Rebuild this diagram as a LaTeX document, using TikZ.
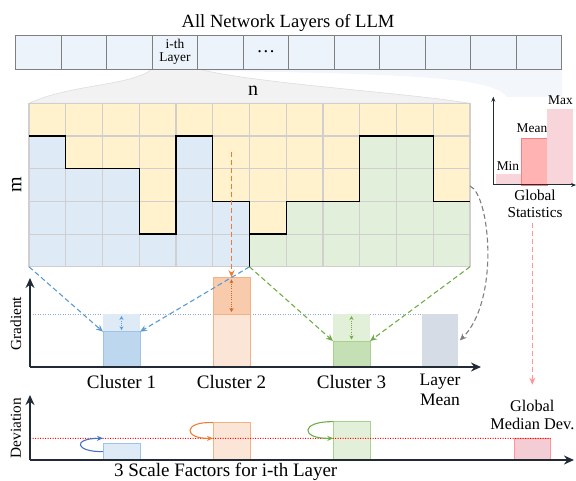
\documentclass[tikz,border=0pt]{standalone}
\usepackage{fontspec}
\setmainfont{Liberation Serif}
\usetikzlibrary{arrows.meta,calc}
\definecolor{cellblue}{RGB}{237,243,250}
\definecolor{cellline}{RGB}{127,127,127}
\definecolor{funnel}{RGB}{242,242,242}
\definecolor{funnelline}{RGB}{222,222,222}
\definecolor{funnelb}{RGB}{243,246,250}
\definecolor{gy}{RGB}{255,242,204}
\definecolor{gb}{RGB}{222,235,247}
\definecolor{gg}{RGB}{226,239,218}
\definecolor{gridline}{RGB}{208,206,206}
\definecolor{axiscol}{RGB}{34,42,53}
\definecolor{bluedark}{RGB}{189,215,238}
\definecolor{blueline}{RGB}{157,195,230}
\definecolor{bluearrow}{RGB}{91,155,213}
\definecolor{orangedark}{RGB}{248,203,173}
\definecolor{orangelight}{RGB}{251,229,214}
\definecolor{orangeline}{RGB}{244,177,131}
\definecolor{orangearrow}{RGB}{237,125,49}
\definecolor{greendark}{RGB}{197,224,180}
\definecolor{greenlight}{RGB}{226,240,217}
\definecolor{greenline}{RGB}{169,209,142}
\definecolor{greenarrow}{RGB}{112,173,71}
\definecolor{meanbar}{RGB}{214,220,229}
\definecolor{meanline}{RGB}{143,170,220}
\definecolor{pinklight}{RGB}{247,213,218}
\definecolor{pinkmean}{RGB}{255,179,179}
\definecolor{pinkline}{RGB}{245,128,128}
\definecolor{pinkarrow}{RGB}{255,150,150}
\definecolor{gmdfill}{RGB}{244,204,212}
\definecolor{devblue}{RGB}{68,114,196}
\definecolor{grayarrow}{RGB}{127,127,127}
\begin{document}
\begin{tikzpicture}[x=1pt,y=-1pt,
  lbl/.style={inner sep=0pt, outer sep=0pt},
  ftitle/.style={font=\fontsize{18.6}{20}\selectfont},
  fclus/.style={font=\fontsize{19}{21}\selectfont},
  fsmall/.style={font=\fontsize{13.4}{13.5}\selectfont},
  faxis/.style={font=\fontsize{15.3}{17}\selectfont},
  fmn/.style={font=\fontsize{20}{20}\selectfont},
  layercell/.style={draw=cellline, fill=cellblue, line width=0.9pt, minimum width=45.5pt, minimum height=34pt, inner sep=0pt, outer sep=0pt, anchor=north west},
  barnode/.style={inner sep=0pt, outer sep=0pt, anchor=south west, minimum width=37pt, line width=0.9pt},
  axisline/.style={draw=axiscol, line width=1.6pt, -{Stealth[length=10pt,width=9pt]}},
  thinaxis/.style={draw=axiscol, line width=1pt, -{Stealth[length=5pt,width=4pt]}},
  dasharrow/.style={dash pattern=on 5pt off 3pt, line width=1.1pt, -{Stealth[length=7pt,width=6pt]}},
  darr/.style={dash pattern=on 1pt off 1.2pt, line width=0.9pt, {Stealth[length=4pt,width=4pt]}-{Stealth[length=4pt,width=4pt]}},
  gridl/.style={draw=gridline, line width=1.1pt},
  bound/.style={draw=black, line width=1.2pt},
  curvearrow/.style={line width=1.1pt, -{Stealth[length=6pt,width=5pt]}}
]
\useasboundingbox (0,0) rectangle (576,481);

% funnels
\fill[funnelb] (15.7,69) .. controls (400,72) and (490,75) .. (507,97) -- (562,97) -- (562,69) -- cycle;
\filldraw[fill=funnel, draw=funnelline, line width=0.6pt] (152.2,69) .. controls (132,86) and (70,84) .. (29,103.3) -- (470,103.3) .. controls (400,92) and (260,84) .. (197.7,69) -- cycle;

% title and layer bar
\node[lbl, ftitle, anchor=base] (title) at (288,27.3) {All Network Layers of LLM};
\foreach \i in {0,...,11} \node[layercell] (L\i) at ({15.7+45.5*\i},35) {};
\node[lbl, fsmall, align=center] (ith) at (L3.center) {i-th\\Layer};
\node[lbl, ftitle] (dots) at (L5.center) {\dots};

% grid
\foreach \c/\k/\col in {0/1/gb,1/2/gb,2/2/gb,3/4/gb,4/1/gb,5/3/gb,6/4/gg,7/3/gg,8/3/gg,9/1/gg,10/1/gg,11/3/gg} {
  \fill[gy] ({29+36.75*\c},103.3) rectangle ({29+36.75*(\c+1)},{103.3+32.7*\k});
  \fill[\col] ({29+36.75*\c},{103.3+32.7*\k}) rectangle ({29+36.75*(\c+1)},266.8);
}
\foreach \c in {0,...,12} \draw[gridl] ({29+36.75*\c},103.3) -- ({29+36.75*\c},266.8);
\foreach \r in {0,...,5} \draw[gridl] (29,{103.3+32.7*\r}) -- (470,{103.3+32.7*\r});
\draw[bound] (29,136) -- (65.75,136) -- (65.75,168.7) -- (139.25,168.7) -- (139.25,234.1) -- (176,234.1) -- (176,136) -- (212.75,136) -- (212.75,201.4) -- (249.5,201.4) -- (249.5,266.8);
\draw[bound] (249.5,234.1) -- (286.25,234.1) -- (286.25,201.4) -- (359.75,201.4) -- (359.75,136) -- (433.25,136) -- (433.25,201.4) -- (470,201.4);
\coordinate (gBL) at (29,266.8);
\coordinate (gMid) at (249.5,266.8);
\coordinate (gBR) at (470,266.8);
\coordinate (gR) at (470,186);
\coordinate (gO) at (231.5,152);
\node[lbl, fmn, anchor=base] (nlab) at (253,96) {n};
\node[lbl, fmn, rotate=90] (mlab) at (16.7,185) {m};

% gradient chart
\coordinate (o1) at (30,367);
\draw[meanline, line width=0.8pt, dash pattern=on 1pt off 1.5pt] (o1 |- 0,314) -- (421.7,314);
\node[barnode, fill=gb, minimum height=17.7pt] (c1top) at (103,331.7) {};
\node[barnode, fill=bluedark, draw=blueline, minimum height=35.3pt] (c1) at (103,367) {};
\node[barnode, fill=orangelight, draw=orangeline, minimum height=53pt] (c2low) at (213,367) {};
\node[barnode, fill=orangedark, draw=orangeline, minimum height=36.7pt] (c2) at (213,314) {};
\node[barnode, fill=greenlight, minimum height=27pt] (c3top) at (333,341) {};
\node[barnode, fill=greendark, draw=greenline, minimum height=26pt] (c3) at (333,367) {};
\node[barnode, fill=meanbar, minimum width=36.6pt, minimum height=53pt] (lm) at (421.7,367) {};
\draw[axisline] (o1) -- (30,278);
\draw[axisline] (o1) -- (481,367);
\draw[darr, bluearrow] ($(c1top.north)+(0,2)$) -- ($(c1.north)+(0,-1.5)$);
\draw[darr, orangearrow!85!black] ($(c2.north)+(0,2)$) -- ($(c2.south)+(0,-2)$);
\draw[darr, greenarrow] ($(c3top.north)+(0,2)$) -- ($(c3.north)+(0,-1.5)$);
\draw[dasharrow, bluearrow] (gBL) -- (c1.north west);
\draw[dasharrow, bluearrow] (gMid) -- (c1.north east);
\draw[dasharrow, greenarrow] (gMid) -- (c3.north west);
\draw[dasharrow, greenarrow] (gBR) -- (c3.north east);
\draw[dasharrow, orangearrow] (gO) -- (c2.north);
\draw[dasharrow, grayarrow] (gR) .. controls (490,195) and (500,300) .. ($(lm.east)+(1.5,0)$);
\node[lbl, fclus, anchor=base] (cl1) at (121.5,388) {Cluster 1};
\node[lbl, fclus, anchor=base] (cl2) at (231.5,388) {Cluster 2};
\node[lbl, fclus, anchor=base] (cl3) at (351.5,388) {Cluster 3};
\node[lbl, align=center, font=\fontsize{17.5}{20}\selectfont] (lml) at (440,390) {Layer\\Mean};
\node[lbl, faxis, rotate=90] (gradl) at (16,323.7) {Gradient};

% global statistics
\node[barnode, fill=pinklight, minimum width=25.7pt, minimum height=11pt] (gmin) at (496,185) {};
\node[barnode, fill=pinkmean, draw=pinkline, minimum width=25.6pt, minimum height=46.7pt] (gmean) at (521.7,185) {};
\node[barnode, fill=pinklight, minimum width=26pt, minimum height=76pt] (gmax) at (547.3,185) {};
\coordinate (o2) at (493.3,185);
\draw[thinaxis] (o2) -- (493.3,96.7);
\draw[thinaxis] (o2) -- (576,185);
\node[lbl, fsmall, anchor=base] (minl) at (508,171) {Min};
\node[lbl, fsmall, anchor=base] (meanl) at (532,132.7) {Mean};
\node[lbl, fsmall, anchor=base] (maxl) at (560.5,104.3) {Max};
\node[lbl, align=center, font=\fontsize{15.2}{17}\selectfont] (stats) at (535,204.3) {Global\\Statistics};

% deviation chart
\coordinate (o3) at (30,460);
\coordinate (med) at (30,438.3);
\node[barnode, fill=gb, draw=blueline, minimum height=16.7pt] (d1) at (103,460) {};
\node[barnode, fill=orangelight, draw=orangeline, minimum height=37.3pt] (d2) at (213,460) {};
\node[barnode, fill=greenlight, draw=greenline, minimum width=36.7pt, minimum height=38.3pt] (d3) at (333.3,460) {};
\node[barnode, fill=gmdfill, draw=pinkarrow, minimum width=36.4pt, minimum height=21.7pt] (dg) at (514.3,460) {};
\draw[red, line width=0.9pt, dash pattern=on 1pt off 1.5pt] (med) -- (dg.north east);
\draw[axisline] (o3) -- (30,395);
\draw[axisline] (o3) -- (574,460);
\draw[curvearrow, devblue] (d1.west) .. controls (75,452) and (72,438.3) .. (d1.west |- med);
\draw[curvearrow, orangearrow] (d2.north west) .. controls (183,421) and (183,439) .. (d2.west |- med);
\draw[curvearrow, greenarrow] (d3.north west) .. controls (300,421) and (300,439) .. (d3.west |- med);
\node[lbl, align=center, font=\fontsize{16.3}{18}\selectfont] (gmdl) at (532.3,414.5) {Global\\Median Dev.};
\draw[dasharrow, pinkarrow, shorten <=5pt, shorten >=15pt] (gmdl.north |- stats.south) -- (gmdl.north);
\node[lbl, faxis, rotate=90] (devl) at (16,428.3) {Deviation};
\node[lbl, fclus, anchor=base] (scalel) at (225.7,476.3) {3 Scale Factors for i-th Layer};
\end{tikzpicture}
\end{document}
